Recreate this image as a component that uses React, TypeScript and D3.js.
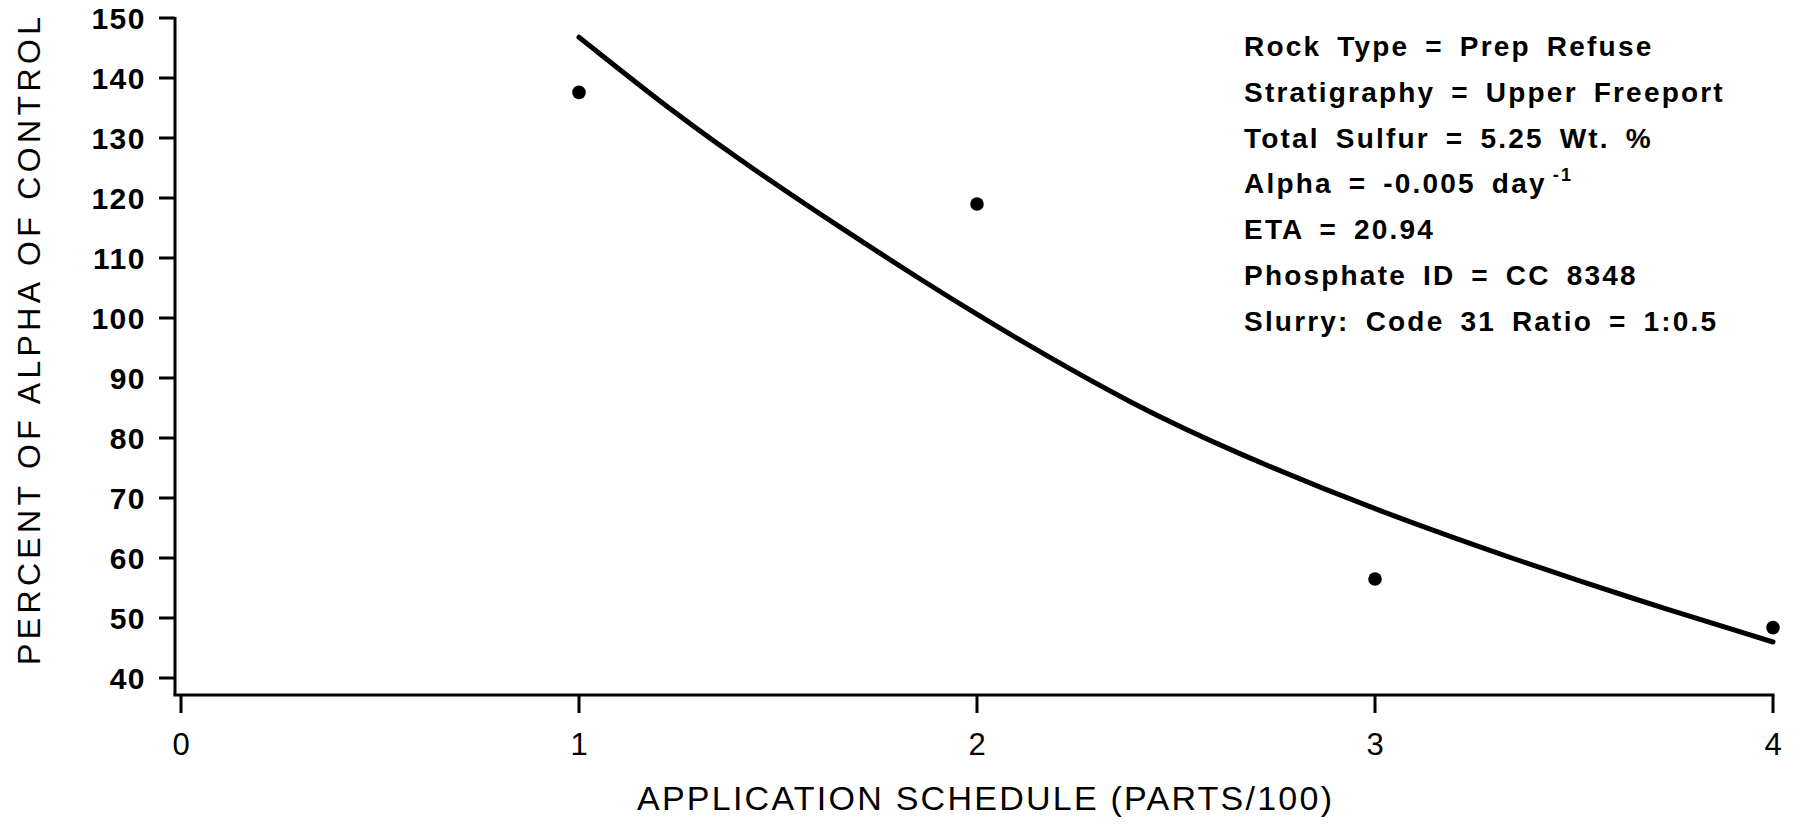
import React from "react";
import * as d3 from "d3";

// Application schedule (parts per 100) and percent of control alpha
const scheduleTicks = [0, 1, 2, 3, 4];
const percentTicks = [40, 50, 60, 70, 80, 90, 100, 110, 120, 130, 140, 150];

// Measured points
const observedSchedule = [1, 2, 3, 4];
const observedPercent = [137.6, 119.0, 56.5, 48.4];

// Fitted decay curve
const fitSchedule = [1, 1.25, 1.44, 1.66, 1.88, 2.0, 2.13, 2.39, 2.65, 3.0, 3.38, 3.63, 4.0];
const fitPercent = [146.8, 133.6, 124.7, 114.9, 105.5, 100.6, 95.4, 85.6, 77.5, 68.0, 59.1, 53.6, 46.0];

// Sample description block
const infoLines = [
  "Rock Type = Prep Refuse",
  "Stratigraphy = Upper Freeport",
  "Total Sulfur = 5.25 Wt. %",
  "Alpha = -0.005 day",
  "ETA = 20.94",
  "Phosphate ID = CC 8348",
  "Slurry: Code 31 Ratio = 1:0.5",
];
const infoSuperscripts = ["", "", "", "-1", "", "", ""];

const xTitle = "APPLICATION SCHEDULE (PARTS/100)";
const yTitle = "PERCENT OF ALPHA OF CONTROL";

const W = 1800;
const H = 827;
const FONT = "'Liberation Sans', Arial, Helvetica, sans-serif";

export default function App() {
  const x = d3.scaleLinear().domain([0, 4]).range([181, 1773]);
  const y = d3.scaleLinear().domain([40, 150]).range([678, 18]);
  const axisX = 175;
  const axisY = 695;

  const fit = fitSchedule.map((s, i) => [s, fitPercent[i]] as [number, number]);
  const line = d3
    .line<[number, number]>()
    .x((d) => x(d[0]))
    .y((d) => y(d[1]))
    .curve(d3.curveBasis);

  return (
    <svg
      width={W}
      height={H}
      style={{ position: "absolute", left: 0, top: 0, background: "#fff" }}
      fontFamily={FONT}
    >
      <rect width={W} height={H} fill="#fff" />

      {/* axes */}
      <line x1={axisX} y1={y(150) - 1} x2={axisX} y2={axisY} stroke="#000" strokeWidth={3} />
      <line x1={axisX - 1.5} y1={axisY} x2={x(4) + 1.5} y2={axisY} stroke="#000" strokeWidth={3} />

      {percentTicks.map((t) => (
        <g key={`yt${t}`}>
          <line x1={159} x2={axisX} y1={y(t)} y2={y(t)} stroke="#000" strokeWidth={3} />
          <text
            x={146}
            y={y(t)}
            dy="0.36em"
            textAnchor="end"
            fontSize={30}
            fontWeight="bold"
            letterSpacing={1.5}
            fill="#000"
          >
            {t}
          </text>
        </g>
      ))}

      {scheduleTicks.map((t) => (
        <g key={`xt${t}`}>
          <line x1={x(t)} x2={x(t)} y1={axisY} y2={713} stroke="#000" strokeWidth={3} />
          <text x={x(t)} y={755} textAnchor="middle" fontSize={31} fill="#000">
            {t}
          </text>
        </g>
      ))}

      {/* axis titles */}
      <text
        x={984.5}
        y={810}
        textAnchor="middle"
        fontSize={34}
        textLength={695}
        lengthAdjust="spacing"
        fill="#000"
      >
        {xTitle}
      </text>
      <text
        transform={`translate(40,341) rotate(-90)`}
        textAnchor="middle"
        fontSize={32}
        textLength={648}
        lengthAdjust="spacing"
        fill="#000"
      >
        {yTitle}
      </text>

      {/* fitted curve */}
      <path d={line(fit) || ""} fill="none" stroke="#000" strokeWidth={5} strokeLinecap="round" />

      {/* observations */}
      {observedSchedule.map((s, i) => (
        <circle key={`p${i}`} cx={x(s)} cy={y(observedPercent[i])} r={6.8} fill="#000" />
      ))}

      {/* description */}
      {infoLines.map((txt, i) => (
        <text
          key={`info${i}`}
          x={1244}
          y={56 + i * 45.8}
          fontSize={28}
          fontWeight="bold"
          letterSpacing={2.2}
          wordSpacing={6}
          fill="#000"
        >
          {txt}
          {infoSuperscripts[i] ? (
            <tspan dx={6} dy={-12} fontSize={18}>
              {infoSuperscripts[i]}
            </tspan>
          ) : null}
        </text>
      ))}
    </svg>
  );
}
